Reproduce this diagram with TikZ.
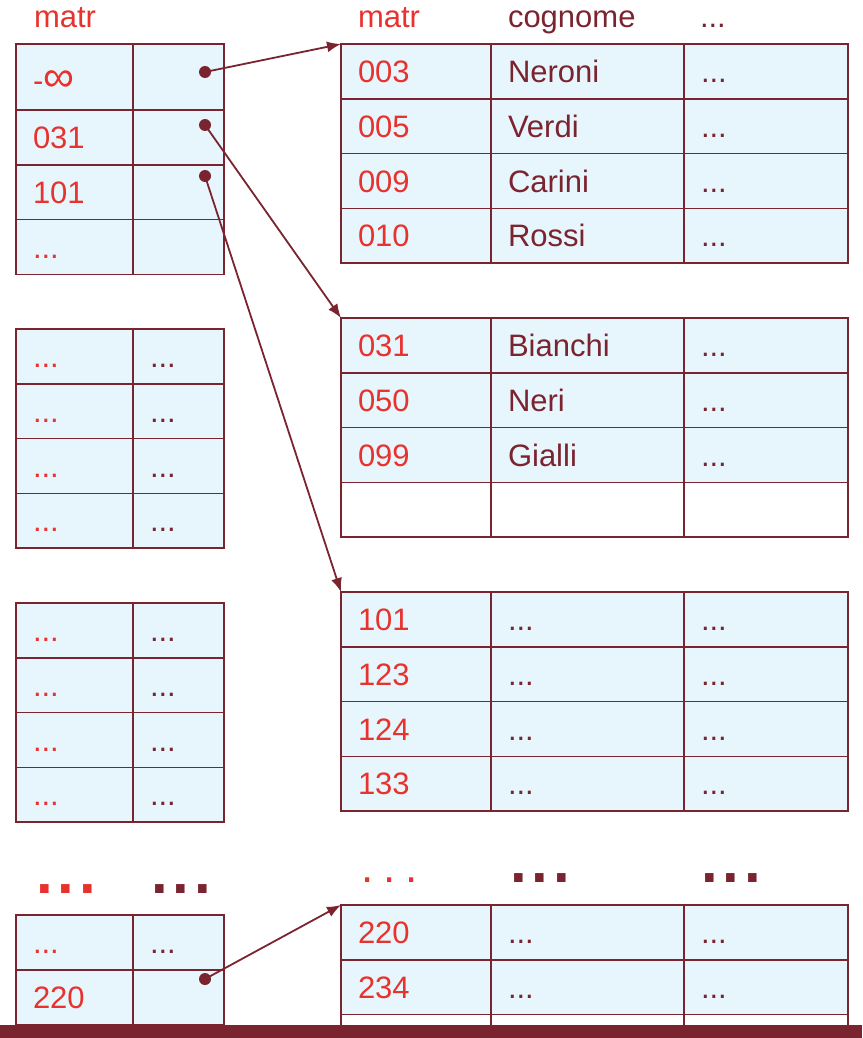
\documentclass[tikz,border=0pt]{standalone}
\usepackage{fontspec}
\setmainfont{Liberation Sans}
\usetikzlibrary{arrows.meta}
\definecolor{bordo}{HTML}{7A2430}
\definecolor{rosso}{HTML}{E8322E}
\definecolor{celeste}{HTML}{E7F6FD}

\begin{document}
\begin{tikzpicture}[x=1pt,y=-1pt,>={Latex[length=14pt,width=11pt]},font=\fontsize{31}{36}\selectfont,
    every node/.style={outer sep=0pt},
    cella/.style={draw=bordo, line width=1.6pt, fill=celeste, anchor=north west, inner xsep=17pt, inner ysep=0pt, minimum height=54.8pt, text height=22pt, text depth=0pt, align=left},
    vuota/.style={cella, fill=white},
    chiave/.style={text=rosso}, valore/.style={text=bordo},
    c1/.style={text width=83pt}, c2/.style={text width=57pt},
    d1/.style={text width=116pt}, d2/.style={text width=159pt}, d3/.style={text width=130pt},
    titolo/.style={anchor=base west, inner sep=0pt},
    punti/.style={anchor=base west, inner sep=0pt, font=\fontsize{60}{60}\selectfont\bfseries},
    pallino/.style={circle, fill=bordo, inner sep=0pt, minimum size=12pt},
    freccia/.style={->, draw=bordo, line width=1.8pt}]
    \useasboundingbox (0,0) rectangle (862,1038);
    \clip (0,0) rectangle (862,1038);

    % intestazioni
    \node [titolo, text=rosso] at (34,28) (hi) {matr};
    \node [titolo, text=rosso] at (358,28) (hd1) {matr};
    \node [titolo, text=bordo] at (508,28) (hd2) {cognome};
    \node [titolo, text=bordo] at (700,28) (hd3) {...};

    % indice, primo blocco
    \node [cella, c1, chiave, minimum height=66pt] at (16,44) (i11) {\raisebox{-4pt}{-\scalebox{1.4}{∞}}};
    \node [cella, c2, minimum height=66pt] at (i11.north east) (i12) {};
    \node [cella, c1, chiave] at (i11.south west) (i21) {031};
    \node [cella, c2] at (i21.north east) (i22) {};
    \node [cella, c1, chiave] at (i21.south west) (i31) {101};
    \node [cella, c2] at (i31.north east) (i32) {};
    \node [cella, c1, chiave] at (i31.south west) (i41) {...};
    \node [cella, c2] at (i41.north east) (i42) {};

    % indice, blocchi intermedi
    \foreach \b/\y in {2/329,3/603} {
        \foreach \r in {1,...,4} {
            \node [cella, c1, chiave] at (16,{\y+(\r-1)*54.8}) (b\b\r1) {...};
            \node [cella, c2, valore] at (b\b\r1.north east) (b\b\r2) {...};
        }
    }

    % indice, ultimo blocco
    \node [punti, text=rosso] at (36,893) (pl1) {.\hspace{5pt}.\hspace{5pt}.};
    \node [punti, text=bordo] at (151,893) (pl2) {.\hspace{5pt}.\hspace{5pt}.};
    \node [cella, c1, chiave] at (16,915) (z11) {...};
    \node [cella, c2, valore] at (z11.north east) (z12) {...};
    \node [cella, c1, chiave] at (z11.south west) (z21) {220};
    \node [cella, c2] at (z21.north east) (z22) {};

    % file dati
    \foreach \k/\n [count=\r] in {003/Neroni,005/Verdi,009/Carini,010/Rossi} {
        \node [cella, d1, chiave] at (341,{44+(\r-1)*54.8}) (a\r1) {\k};
        \node [cella, d2, valore] at (a\r1.north east) (a\r2) {\n};
        \node [cella, d3, valore] at (a\r2.north east) (a\r3) {...};
    }
    \foreach \k/\n [count=\r] in {031/Bianchi,050/Neri,099/Gialli} {
        \node [cella, d1, chiave] at (341,{318+(\r-1)*54.8}) (e\r1) {\k};
        \node [cella, d2, valore] at (e\r1.north east) (e\r2) {\n};
        \node [cella, d3, valore] at (e\r2.north east) (e\r3) {...};
    }
    \node [vuota, d1] at (e31.south west) (e41) {};
    \node [vuota, d2] at (e41.north east) (e42) {};
    \node [vuota, d3] at (e42.north east) (e43) {};
    \foreach \k [count=\r] in {101,123,124,133} {
        \node [cella, d1, chiave] at (341,{592+(\r-1)*54.8}) (f\r1) {\k};
        \node [cella, d2, valore] at (f\r1.north east) (f\r2) {...};
        \node [cella, d3, valore] at (f\r2.north east) (f\r3) {...};
    }
    \node [punti, text=rosso, font=\fontsize{44}{44}\selectfont] at (361,882) (pr1) {.\hspace{10pt}.\hspace{10pt}.};
    \node [punti, text=bordo] at (510,882) (pr2) {.\hspace{5pt}.\hspace{5pt}.};
    \node [punti, text=bordo] at (701,882) (pr3) {.\hspace{5pt}.\hspace{5pt}.};
    \foreach \k [count=\r] in {220,234} {
        \node [cella, d1, chiave] at (341,{905+(\r-1)*54.8}) (g\r1) {\k};
        \node [cella, d2, valore] at (g\r1.north east) (g\r2) {...};
        \node [cella, d3, valore] at (g\r2.north east) (g\r3) {...};
    }
    \node [vuota, d1] at (g21.south west) (g31) {};
    \node [vuota, d2] at (g31.north east) (g32) {};
    \node [vuota, d3] at (g32.north east) (g33) {};

    % puntatori
    \node [pallino] at (205,72) (p1) {};
    \node [pallino] at (205,125) (p2) {};
    \node [pallino] at (205,176) (p3) {};
    \node [pallino] at (205,979) (p4) {};
    \draw [freccia] (p1.center) -- (a11.north west);
    \draw [freccia] (p2.center) -- (e11.north west);
    \draw [freccia] (p3.center) -- (f11.north west);
    \draw [freccia] (p4.center) -- (g11.north west);

    \fill [bordo] (0,1025) rectangle (862,1038);
\end{tikzpicture}
\end{document}
